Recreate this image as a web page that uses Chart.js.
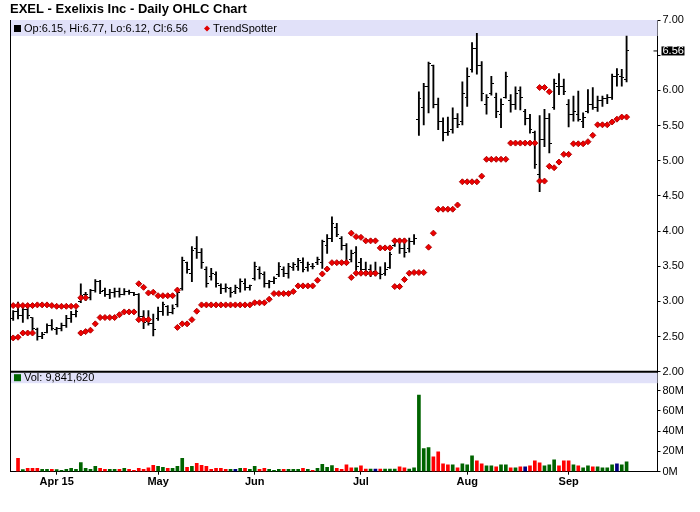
<!DOCTYPE html>
<html>
<head>
<meta charset="utf-8">
<title>EXEL - Exelixis Inc - Daily OHLC Chart</title>
<script src="https://cdn.jsdelivr.net/npm/chart.js@4.4.1/dist/chart.umd.min.js"></script>
<style>
  html, body { margin: 0; padding: 0; background: #fff; }
  #wrap { position: relative; width: 700px; height: 512px; }
</style>
</head>
<body>
<div id="wrap"><canvas id="exelChart" width="700" height="512"></canvas></div>
<script>
// Daily bars, Mar 19 2015 -> Sep 18 2015 (index = trading day)
const highs = [
  2.87, 2.99, 2.92, 2.94, 2.77, 2.62, 2.56, 2.68, 2.74, 2.63,
  2.69, 2.80, 2.86, 2.88, 3.25, 3.13, 3.17, 3.31, 3.30, 3.19,
  3.17, 3.19, 3.19, 3.18, 3.16, 3.13, 3.11, 2.87, 2.87, 2.82,
  2.92, 2.99, 2.94, 2.95, 3.16, 3.63, 3.56, 3.78, 3.92, 3.75,
  3.49, 3.47, 3.42, 3.25, 3.25, 3.20, 3.23, 3.32, 3.32, 3.23,
  3.56, 3.49, 3.42, 3.30, 3.35, 3.55, 3.49, 3.54, 3.55, 3.61,
  3.62, 3.56, 3.54, 3.63, 3.87, 3.95, 4.20, 4.11, 3.92, 3.82,
  3.73, 3.78, 3.61, 3.56, 3.52, 3.56, 3.49, 3.55, 3.70, 3.89,
  3.89, 3.89, 3.90, 3.95, 5.98, 6.10, 6.40, 6.36, 5.89, 5.61,
  5.62, 5.75, 5.67, 6.12, 6.32, 6.68, 6.81, 6.41, 5.94, 6.20,
  5.96, 5.88, 6.26, 5.94, 6.05, 6.05, 5.73, 5.66, 5.42, 5.64,
  5.73, 5.67, 6.16, 6.24, 6.16, 5.87, 5.92, 5.99, 5.68, 6.01,
  6.04, 5.92, 5.92, 5.94, 6.23, 6.31, 6.30, 6.77
]
const lows = [
  2.73, 2.75, 2.70, 2.75, 2.59, 2.45, 2.47, 2.55, 2.59, 2.53,
  2.58, 2.63, 2.70, 2.78, 2.98, 3.01, 3.02, 3.13, 3.11, 3.07,
  3.04, 3.06, 3.06, 3.09, 3.10, 3.08, 2.73, 2.61, 2.66, 2.51,
  2.73, 2.80, 2.80, 2.82, 2.92, 3.16, 3.40, 3.28, 3.61, 3.47,
  3.20, 3.30, 3.20, 3.11, 3.13, 3.06, 3.11, 3.13, 3.16, 3.16,
  3.30, 3.32, 3.20, 3.19, 3.25, 3.35, 3.35, 3.33, 3.44, 3.44,
  3.42, 3.43, 3.46, 3.52, 3.47, 3.68, 3.85, 3.92, 3.73, 3.52,
  3.56, 3.44, 3.39, 3.39, 3.35, 3.36, 3.32, 3.37, 3.47, 3.78,
  3.68, 3.63, 3.70, 3.81, 5.36, 5.51, 5.68, 5.75, 5.44, 5.28,
  5.36, 5.39, 5.47, 5.51, 5.77, 6.26, 6.23, 5.85, 5.66, 5.93,
  5.61, 5.47, 5.89, 5.69, 5.73, 5.72, 5.51, 5.39, 4.89, 4.56,
  5.20, 5.11, 5.73, 5.94, 5.94, 5.48, 5.56, 5.56, 5.47, 5.68,
  5.73, 5.70, 5.77, 5.81, 5.87, 6.06, 6.06, 6.12
]
const opens = [
  2.75, 2.85, 2.80, 2.88, 2.77, 2.60, 2.50, 2.56, 2.66, 2.60,
  2.62, 2.66, 2.75, 2.82, 3.00, 3.10, 3.05, 3.15, 3.28, 3.15,
  3.10, 3.12, 3.14, 3.10, 3.14, 3.12, 3.10, 2.78, 2.72, 2.68,
  2.75, 2.85, 2.92, 2.84, 2.95, 3.18, 3.55, 3.40, 3.75, 3.70,
  3.45, 3.35, 3.38, 3.22, 3.18, 3.18, 3.14, 3.18, 3.25, 3.20,
  3.32, 3.45, 3.38, 3.25, 3.28, 3.38, 3.45, 3.40, 3.48, 3.50,
  3.55, 3.48, 3.50, 3.55, 3.55, 3.80, 3.90, 4.05, 3.90, 3.80,
  3.60, 3.70, 3.55, 3.45, 3.45, 3.42, 3.40, 3.40, 3.48, 3.80,
  3.85, 3.75, 3.75, 3.85, 5.58, 5.75, 6.05, 6.35, 5.80, 5.55,
  5.40, 5.45, 5.60, 5.55, 5.90, 6.30, 6.60, 6.35, 5.80, 5.95,
  5.90, 5.65, 5.90, 5.85, 5.80, 6.00, 5.70, 5.60, 5.40, 4.80,
  5.30, 5.60, 5.75, 6.05, 6.05, 5.80, 5.65, 5.65, 5.55, 5.70,
  5.80, 5.75, 5.85, 5.88, 5.90, 6.20, 6.20, 6.15
]
const closes = [
  2.85, 2.80, 2.88, 2.80, 2.62, 2.50, 2.53, 2.65, 2.62, 2.61,
  2.66, 2.76, 2.82, 2.86, 3.08, 3.10, 3.15, 3.28, 3.14, 3.10,
  3.12, 3.14, 3.10, 3.14, 3.12, 3.10, 2.78, 2.70, 2.68, 2.60,
  2.85, 2.95, 2.84, 2.90, 3.12, 3.58, 3.45, 3.72, 3.70, 3.55,
  3.25, 3.40, 3.25, 3.18, 3.20, 3.12, 3.20, 3.28, 3.20, 3.22,
  3.50, 3.40, 3.25, 3.28, 3.32, 3.50, 3.40, 3.50, 3.52, 3.58,
  3.45, 3.52, 3.50, 3.60, 3.85, 3.90, 4.10, 3.95, 3.80, 3.55,
  3.68, 3.50, 3.45, 3.42, 3.40, 3.40, 3.38, 3.45, 3.66, 3.85,
  3.75, 3.70, 3.85, 3.90, 5.88, 6.05, 6.38, 5.80, 5.55, 5.40,
  5.42, 5.60, 5.52, 5.95, 6.20, 6.60, 6.35, 5.95, 5.90, 6.10,
  5.70, 5.80, 6.20, 5.80, 5.95, 5.90, 5.60, 5.45, 4.95, 5.30,
  5.60, 5.25, 6.10, 6.05, 5.98, 5.65, 5.70, 5.58, 5.62, 5.80,
  5.75, 5.85, 5.88, 5.90, 6.20, 6.22, 6.18, 6.56
]

// TrendSpotter dots (two rows, null where no dot)
const trendUpper = [
  2.94, 2.94, 2.94, 2.94, 2.94, 2.95, 2.95, 2.95, 2.94, 2.93,
  2.93, 2.93, 2.93, 2.93, 3.05, 3.05, null, null, null, null,
  null, null, null, null, null, null, 3.25, 3.20, 3.12, 3.13,
  3.08, 3.08, 3.08, 3.08, 3.16, null, null, null, null, null,
  null, null, null, null, null, null, null, null, null, null,
  null, null, null, null, null, null, null, null, null, null,
  null, null, null, null, null, null, null, null, null, null,
  3.97, 3.92, 3.91, 3.86, 3.86, 3.86, 3.76, 3.76, 3.76, 3.86,
  3.86, 3.86, null, null, null, null, null, null, null, null,
  null, null, null, null, null, null, null, null, null, null,
  null, null, null, null, null, null, null, null, null, 6.04,
  6.04, 5.98, null, null, null, null, null, null, null, null,
  null, null, null, null, null, null, null, null
]
const trendLower = [
  2.48, 2.49, 2.55, 2.55, 2.55, null, null, null, null, null,
  null, null, null, null, 2.55, 2.57, 2.59, 2.68, 2.77, 2.77,
  2.77, 2.77, 2.81, 2.85, 2.85, 2.85, 2.74, 2.74, 2.74, null,
  null, null, null, null, 2.63, 2.68, 2.68, 2.74, 2.86, 2.95,
  2.95, 2.95, 2.95, 2.95, 2.95, 2.95, 2.95, 2.95, 2.95, 2.95,
  2.98, 2.98, 2.98, 3.03, 3.11, 3.11, 3.11, 3.11, 3.14, 3.22,
  3.22, 3.22, 3.22, 3.30, 3.39, 3.46, 3.55, 3.55, 3.55, 3.55,
  3.34, 3.40, 3.40, 3.40, 3.40, 3.40, null, null, null, 3.21,
  3.21, 3.31, 3.40, 3.41, 3.41, 3.41, 3.77, 3.97, 4.31, 4.31,
  4.31, 4.31, 4.37, 4.70, 4.70, 4.70, 4.70, 4.78, 5.02, 5.02,
  5.02, 5.02, 5.02, 5.25, 5.25, 5.25, 5.25, 5.25, 5.25, 4.71,
  4.71, 4.92, 4.90, 4.98, 5.09, 5.09, 5.24, 5.24, 5.24, 5.27,
  5.36, 5.51, 5.51, 5.51, 5.55, 5.59, 5.62, 5.62
]

// Volume in millions, and day direction (u = up, d = down, n = unchanged)
const volume = [
  null, 13.3, 2.0, 3.3, 3.3, 3.3, 2.3, 2.3, 2.3, 2.0,
  1.3, 2.3, 3.3, 2.3, 9.0, 3.3, 2.3, 5.3, 3.3, 2.3,
  2.3, 2.3, 2.3, 3.3, 2.3, 1.3, 3.3, 2.3, 3.7, 6.3,
  5.3, 4.3, 3.3, 3.3, 5.3, 13.3, 4.3, 5.3, 8.3, 6.3,
  5.3, 2.3, 3.3, 3.3, 2.3, 2.3, 2.3, 3.3, 3.3, 2.3,
  5.3, 2.3, 3.3, 2.3, 1.3, 2.3, 2.3, 2.3, 2.3, 2.3,
  3.3, 2.3, 1.3, 3.3, 7.3, 4.3, 6.0, 3.3, 2.3, 6.7,
  3.7, 3.7, 5.7, 2.7, 2.7, 2.7, 2.7, 2.7, 2.7, 2.7,
  4.7, 3.7, 2.7, 3.7, 75.7, 22.7, 23.7, 14.7, 19.7, 7.7,
  6.7, 6.7, 3.7, 7.7, 6.7, 15.7, 10.7, 7.7, 5.7, 5.7,
  4.7, 6.7, 6.7, 3.7, 3.7, 4.7, 4.7, 5.7, 10.7, 8.7,
  5.7, 6.7, 11.7, 5.7, 10.7, 10.7, 6.7, 5.7, 3.7, 5.7,
  4.7, 4.7, 3.7, 3.7, 6.7, 7.7, 6.7, 9.84162
]
const volDir = [
  'u', 'd', 'u', 'd', 'd', 'd', 'u', 'u', 'd', 'u',
  'u', 'u', 'u', 'u', 'u', 'u', 'u', 'u', 'd', 'd',
  'u', 'u', 'd', 'u', 'd', 'd', 'd', 'd', 'd', 'd',
  'u', 'u', 'd', 'u', 'u', 'u', 'd', 'u', 'd', 'd',
  'd', 'd', 'd', 'd', 'd', 'u', 'n', 'u', 'd', 'u',
  'u', 'd', 'd', 'u', 'u', 'u', 'd', 'u', 'u', 'u',
  'd', 'u', 'd', 'u', 'u', 'u', 'u', 'd', 'd', 'd',
  'd', 'u', 'd', 'd', 'u', 'n', 'd', 'u', 'u', 'u',
  'd', 'd', 'u', 'u', 'u', 'u', 'u', 'd', 'd', 'd',
  'd', 'u', 'd', 'u', 'u', 'u', 'd', 'd', 'u', 'u',
  'd', 'u', 'u', 'd', 'u', 'd', 'n', 'd', 'd', 'd',
  'u', 'u', 'u', 'd', 'd', 'd', 'u', 'd', 'u', 'u',
  'd', 'u', 'u', 'u', 'u', 'n', 'u', 'u'
]

// x axis labels sit on the first trading day of each month
const monthIdx = [9, 30, 50, 72, 94, 115]
const monthLabels = ['Apr 15', 'May', 'Jun', 'Jul', 'Aug', 'Sep']
const priceTicks = [2, 7, 0.5]
const volTicks = [0, 80, 20]

const FONT = '"Liberation Sans", Arial, Helvetica, sans-serif'
const last = closes.length - 1
const idx = closes.map((_, i) => i)

// small 1px tick images: open on the left side, close on the right
function tickImage(side) {
    const c = document.createElement('canvas')
    c.width = 5
    c.height = 1
    const g = c.getContext('2d')
    g.fillStyle = '#000'
    g.fillRect(side === 'left' ? 0 : 3, 0, 2, 1)
    return c
}

const volColor = { u: '#006400', d: '#ff0000', n: '#000080' }

// Bands, frame lines, legends and the last-close box
const panelPlugin = {
    id: 'panels',
    beforeDatasetsDraw(chart) {
        const { ctx, chartArea } = chart
        const yP = chart.scales.y
        const yV = chart.scales.vol
        ctx.save()
        ctx.fillStyle = '#e1e1f9'
        ctx.fillRect(chartArea.left, yP.top, chartArea.right - chartArea.left, 16)
        ctx.fillRect(chartArea.left, yV.top + 1, chartArea.right - chartArea.left, 10.5)
        ctx.restore()
    },
    afterDraw(chart) {
        const { ctx, chartArea } = chart
        const yP = chart.scales.y
        const yV = chart.scales.vol
        ctx.save()

        // left edge and panel separator
        ctx.strokeStyle = '#000'
        ctx.lineWidth = 1
        ctx.beginPath()
        ctx.moveTo(chartArea.left + 0.5, chartArea.top)
        ctx.lineTo(chartArea.left + 0.5, chartArea.bottom)
        ctx.stroke()
        ctx.lineWidth = 2
        ctx.beginPath()
        ctx.moveTo(chartArea.left, yP.bottom)
        ctx.lineTo(chartArea.right, yP.bottom)
        ctx.stroke()

        // price legend
        ctx.font = '11px ' + FONT
        ctx.textBaseline = 'middle'
        ctx.fillStyle = '#000'
        ctx.fillRect(14, yP.top + 5, 7, 7)
        const legendText = 'Op:' + opens[last].toFixed(2) + ', Hi:' + highs[last].toFixed(2) +
            ', Lo:' + lows[last].toFixed(2) + ', Cl:' + closes[last].toFixed(2)
        ctx.fillText(legendText, 24, yP.top + 8.5)

        const dx = 207, dy = yP.top + 8.5
        ctx.fillStyle = '#e00000'
        ctx.beginPath()
        ctx.moveTo(dx, dy - 3)
        ctx.lineTo(dx + 3, dy)
        ctx.lineTo(dx, dy + 3)
        ctx.lineTo(dx - 3, dy)
        ctx.closePath()
        ctx.fill()
        ctx.fillStyle = '#000'
        ctx.fillText('TrendSpotter', 213, dy)

        // volume legend
        ctx.fillStyle = '#006400'
        ctx.fillRect(14, yV.top + 2.5, 7, 7)
        ctx.fillStyle = '#000'
        const volText = 'Vol: ' + Math.round(volume[last] * 1e6).toLocaleString('en-US')
        ctx.fillText(volText, 24, yV.top + 6)

        // last close box on the price axis
        const yc = yP.getPixelForValue(closes[last])
        ctx.lineWidth = 1
        ctx.beginPath()
        ctx.moveTo(yP.left - 4, yc)
        ctx.lineTo(yP.left, yc)
        ctx.stroke()
        ctx.fillRect(yP.left + 4, yc - 4.5, 23, 9)
        ctx.fillStyle = '#fff'
        ctx.fillText(closes[last].toFixed(2), yP.left + 5, yc + 0.5)
        ctx.restore()
    }
}

const axisFont = { family: FONT, size: 11 }

new Chart(document.getElementById('exelChart'), {
    type: 'bar',
    data: {
        datasets: [
            {
                type: 'line',
                label: 'TrendSpotter',
                data: idx.map(i => ({ x: i, y: trendUpper[i] })),
                yAxisID: 'y',
                showLine: false,
                pointStyle: 'rectRot',
                pointRadius: 3,
                backgroundColor: '#ee0000',
                borderColor: '#b00000',
                borderWidth: 1,
                order: 0
            },
            {
                type: 'line',
                label: 'TrendSpotter 2',
                data: idx.map(i => ({ x: i, y: trendLower[i] })),
                yAxisID: 'y',
                showLine: false,
                pointStyle: 'rectRot',
                pointRadius: 3,
                backgroundColor: '#ee0000',
                borderColor: '#b00000',
                borderWidth: 1,
                order: 0
            },
            {
                type: 'line',
                label: 'Open',
                data: idx.map(i => ({ x: i, y: opens[i] })),
                yAxisID: 'y',
                showLine: false,
                pointStyle: tickImage('left'),
                pointRadius: 2,
                order: 1
            },
            {
                type: 'line',
                label: 'Close',
                data: idx.map(i => ({ x: i, y: closes[i] })),
                yAxisID: 'y',
                showLine: false,
                pointStyle: tickImage('right'),
                pointRadius: 2,
                order: 1
            },
            {
                type: 'bar',
                label: 'Range',
                data: idx.map(i => ({ x: i, y: [lows[i], highs[i]] })),
                yAxisID: 'y',
                backgroundColor: '#000',
                barThickness: 1.2,
                grouped: false,
                order: 2
            },
            {
                type: 'bar',
                label: 'Volume',
                data: idx.map(i => ({ x: i, y: volume[i] })),
                yAxisID: 'vol',
                backgroundColor: idx.map(i => volColor[volDir[i]]),
                barThickness: 3,
                grouped: false,
                order: 3
            }
        ]
    },
    options: {
        responsive: false,
        animation: false,
        devicePixelRatio: 1,
        layout: { padding: { left: 10, right: 0, top: 0, bottom: 0 } },
        plugins: {
            legend: { display: false },
            tooltip: { enabled: false },
            title: {
                display: true,
                text: 'EXEL - Exelixis Inc - Daily OHLC Chart',
                align: 'start',
                color: '#000',
                font: { family: FONT, size: 13, weight: 'bold' },
                padding: { top: 2, bottom: 2.4 }
            }
        },
        scales: {
            x: {
                type: 'linear',
                position: 'bottom',
                offset: false,
                min: -0.66,
                max: 133.4,
                afterBuildTicks: scale => { scale.ticks = monthIdx.map(v => ({ value: v })) },
                afterFit: scale => { scale.height = 40.3 },
                ticks: {
                    autoSkip: false,
                    maxRotation: 0,
                    padding: 1,
                    color: '#000',
                    font: { family: FONT, size: 11, weight: 'bold' },
                    callback: v => monthLabels[monthIdx.indexOf(v)]
                },
                grid: { drawOnChartArea: false, offset: false, tickLength: 3, color: '#000' },
                border: { color: '#000' }
            },
            y: {
                position: 'right',
                stack: 'panels',
                stackWeight: 351.7,
                min: priceTicks[0],
                max: priceTicks[1],
                afterFit: scale => { scale.width = 42.5 },
                ticks: {
                    stepSize: priceTicks[2],
                    autoSkip: false,
                    padding: 2,
                    color: '#000',
                    font: axisFont,
                    callback: v => Math.abs(v - closes[last]) < 0.12 ? '' : v.toFixed(2)
                },
                grid: { drawOnChartArea: false, tickLength: 3, color: '#000' },
                border: { color: '#000' }
            },
            vol: {
                position: 'right',
                stack: 'panels',
                stackWeight: 100,
                min: 0,
                max: 98.7,
                afterFit: scale => { scale.width = 42.5 },
                ticks: {
                    stepSize: volTicks[2],
                    includeBounds: false,
                    autoSkip: false,
                    padding: 2,
                    color: '#000',
                    font: axisFont,
                    callback: v => v <= volTicks[1] ? v + 'M' : ''
                },
                grid: { drawOnChartArea: false, tickLength: 3, color: '#000' },
                border: { color: '#000' }
            }
        }
    },
    plugins: [panelPlugin]
})
</script>
</body>
</html>
